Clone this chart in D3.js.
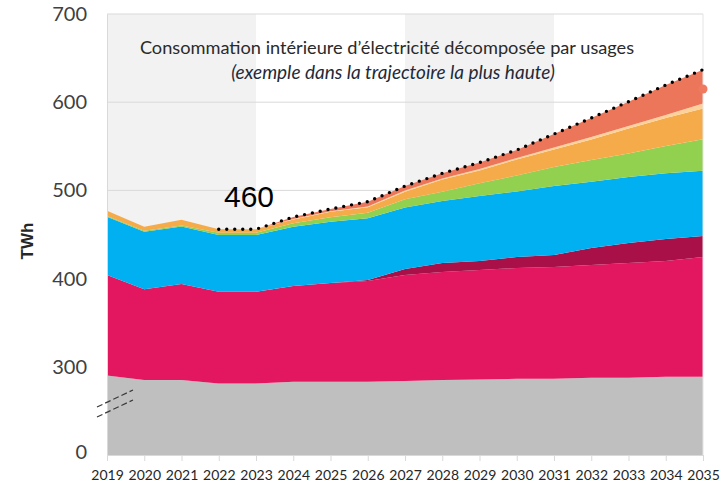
<!DOCTYPE html>
<html>
<head>
<meta charset="utf-8">
<script src="https://cdn.jsdelivr.net/npm/d3@7"></script>
<style>
body { margin: 0; background: #fff; }
svg { display: block; }
</style>
</head>
<body>
<svg width="723" height="487"></svg>
<script>
// donnees (TWh)
var years = [2019, 2020, 2021, 2022, 2023, 2024, 2025, 2026, 2027, 2028, 2029, 2030, 2031, 2032, 2033, 2034, 2035];
var grey = [290, 285, 285, 281, 281, 283, 283, 283, 284, 285, 285.5, 286.4, 286.4, 287.5, 287.5, 288.7, 288.7];
var pink = [114, 103, 109, 104, 104, 108.6, 112, 114.3, 120, 122.5, 124.3, 125.6, 126.8, 127.9, 130.2, 131.3, 135.8];
var darkPink = [0, 0, 0, 0, 0, 0, 0, 1.1, 6.8, 10.2, 10.2, 12.5, 13.6, 19.3, 22.7, 24.9, 23.8];
var blue = [66, 65, 65, 64.5, 64.5, 67.2, 69.5, 70, 69.7, 70.3, 73.7, 74.3, 78.2, 75.2, 74.8, 74.5, 74];
var green = [1, 1.2, 1.2, 2.5, 2.5, 3.9, 5, 6.3, 9.6, 10.5, 14.3, 18.1, 21.5, 24.6, 26.6, 30.9, 35.6];
var orange = [6, 4.5, 6.4, 4, 4, 4.3, 6.4, 6.1, 8.3, 13.9, 14.6, 18.1, 19.9, 23.2, 28.4, 31.8, 35];
var peach = [0, 0, 0, 0, 0, 0.6, 0.5, 0.9, 1.4, 1.1, 1.7, 1.7, 2.2, 2.8, 2.8, 3.4, 5.5];
var salmon = [0, 0, 0, 0, 0, 2.2, 2.5, 5.5, 5.1, 5.9, 7.3, 9.1, 15.3, 21.6, 27.6, 34, 38.5];

var keys = ['grey', 'pink', 'darkPink', 'blue', 'green', 'orange', 'peach', 'salmon'];
var colors = ['#bfbfbf', '#e2175f', '#aa1048', '#00b0f0', '#92d050', '#f6ab4b', '#fcd19a', '#ec765a'];

// axe coupe : le bas de l'axe est affiche "0"
var yTickValues = [200, 300, 400, 500, 600, 700];
var yTickLabels = ['0', '300', '400', '500', '600', '700'];
var gridValues = [500, 600, 700];
// bandes grisees
var bands = [[2019, 2023], [2027, 2031]];
var dottedFrom = 2022;
var markerYear = 2035, markerValue = 615;
var totalLabel = '460';
var title1 = 'Consommation intérieure d’électricité décomposée par usages';
var title2 = '(exemple dans la trajectoire la plus haute)';

var plotLeft = 107, plotRight = 703, plotTop = 14, plotBottom = 455;

var x = d3.scaleLinear().domain([2019, 2035]).range([plotLeft, plotRight]);
var y = d3.scaleLinear().domain([200, 700]).range([plotBottom, plotTop]).clamp(true);

var table = years.map(function(yr, i){
	return {year: yr, grey: grey[i], pink: pink[i], darkPink: darkPink[i], blue: blue[i],
		green: green[i], orange: orange[i], peach: peach[i], salmon: salmon[i]};
});
var series = d3.stack().keys(keys)(table);

var svg = d3.select('svg');

// bandes de fond
svg.append('g').selectAll('rect').data(bands).join('rect')
	.attr('x', function(d){ return x(d[0]); })
	.attr('y', y(700))
	.attr('width', function(d){ return x(d[1]) - x(d[0]); })
	.attr('height', y(200) - y(700))
	.attr('fill', '#f2f2f2');

// grille
svg.append('g').selectAll('line').data(gridValues).join('line')
	.attr('x1', plotLeft).attr('x2', plotRight)
	.attr('y1', function(d){ return y(d); })
	.attr('y2', function(d){ return y(d); })
	.attr('stroke', '#d9d9d9').attr('stroke-width', 1);

// aires empilees
var area = d3.area()
	.x(function(d){ return x(d.data.year); })
	.y0(function(d){ return y(d[0]); })
	.y1(function(d){ return y(d[1]); });

svg.append('g').selectAll('path').data(series).join('path')
	.attr('d', area)
	.attr('fill', function(d, i){ return colors[i]; });

// axe des x
var xAxis = d3.axisBottom(x).tickValues(years).tickFormat(d3.format('d')).tickSize(6).tickSizeOuter(0);
var gx = svg.append('g').attr('transform', 'translate(0,' + plotBottom + ')').call(xAxis);
gx.select('.domain').attr('stroke', '#d9d9d9');
gx.selectAll('.tick line').attr('stroke', '#d9d9d9');
gx.selectAll('.tick text')
	.attr('y', 15)
	.attr('fill', '#262626')
	.style('font-family', 'Lato, sans-serif')
	.style('font-size', '14px');

// axe des y (sans graduations)
var yAxis = d3.axisLeft(y).tickValues(yTickValues).tickSize(0)
	.tickFormat(function(d, i){ return yTickLabels[i]; });
var gy = svg.append('g').attr('transform', 'translate(' + plotLeft + ',0)').call(yAxis);
gy.select('.domain').attr('stroke', '#d9d9d9');
gy.selectAll('.tick text')
	.attr('x', -20)
	.attr('fill', '#404040')
	.style('font-family', 'Lato, sans-serif')
	.style('font-size', '20px');
// le "0" est un peu remonte
gy.selectAll('.tick text').filter(function(d){ return d === 200; }).attr('y', -3);

svg.append('line')
	.attr('x1', plotRight).attr('x2', plotRight)
	.attr('y1', y(700)).attr('y2', plotBottom)
	.attr('stroke', '#e4e4e4');

// marque de coupure de l'axe
[0, 10].forEach(function(off){
	svg.append('line')
		.attr('x1', 97).attr('y1', 407 + off)
		.attr('x2', 133).attr('y2', 390 + off)
		.attr('stroke', '#3a3a3a')
		.attr('stroke-width', 1.2)
		.attr('stroke-dasharray', '6,3');
});

// total en pointilles
var totals = table.filter(function(d){ return d.year >= dottedFrom; });
var line = d3.line()
	.x(function(d){ return x(d.year); })
	.y(function(d){ return y(d3.sum(keys, function(k){ return d[k]; })); });
svg.append('path')
	.datum(totals)
	.attr('d', line)
	.attr('fill', 'none')
	.attr('stroke', '#000')
	.attr('stroke-width', 3.4)
	.attr('stroke-linecap', 'round')
	.attr('stroke-dasharray', '0,8');

svg.append('circle')
	.attr('cx', x(markerYear))
	.attr('cy', y(markerValue))
	.attr('r', 4.5)
	.attr('fill', '#ef7a5f');

// textes
svg.append('text')
	.attr('x', 224).attr('y', 207)
	.attr('fill', '#000')
	.style('font-family', '"Liberation Sans", Arial, sans-serif')
	.style('font-size', '30px')
	.text(totalLabel);

svg.append('text')
	.attr('x', 387).attr('y', 54)
	.attr('text-anchor', 'middle')
	.attr('fill', '#2a2a2a')
	.style('font-family', 'Lato, sans-serif')
	.style('font-size', '18.2px')
	.text(title1);

svg.append('text')
	.attr('x', 393).attr('y', 79)
	.attr('text-anchor', 'middle')
	.attr('fill', '#1e2a3a')
	.style('font-family', 'Lato, sans-serif')
	.style('font-style', 'italic')
	.style('font-size', '19px')
	.text(title2);

svg.append('text')
	.attr('transform', 'translate(33,241) rotate(-90)')
	.attr('text-anchor', 'middle')
	.attr('fill', '#262626')
	.style('font-family', '"Liberation Sans", Arial, sans-serif')
	.style('font-weight', 'bold')
	.style('font-size', '17px')
	.text('TWh');
</script>
</body>
</html>
